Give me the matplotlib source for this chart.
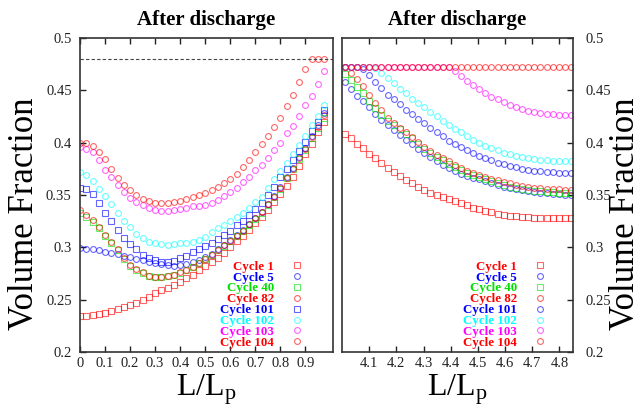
import matplotlib
matplotlib.use("Agg")
import matplotlib.pyplot as plt
from matplotlib.ticker import FormatStrFormatter

plt.rcParams['font.family'] = 'Liberation Serif'
plt.rcParams['mathtext.fontset'] = 'custom'
plt.rcParams['mathtext.rm'] = 'Liberation Serif'
plt.rcParams['mathtext.it'] = 'Liberation Serif:italic'

# --- data ---
cycles = ['Cycle 1', 'Cycle 5', 'Cycle 40', 'Cycle 82',
          'Cycle 101', 'Cycle 102', 'Cycle 103', 'Cycle 104']
colors = ['#ff0000', '#0000ff', '#00e000', '#ff0000',
          '#0000ff', '#00ffff', '#ff00ff', '#ff0000']
markersLeft = ['s', 'o', 's', 'o', 's', 'o', 'o', 'o']
markersRight = ['s', 'o', 's', 'o', 'o', 'o', 'o', 'o']

# left panel: positions along the particle
xLeft = [0.0, 0.025, 0.05, 0.075, 0.1, 0.125, 0.15, 0.175, 0.2, 0.225,
         0.25, 0.275, 0.3, 0.325, 0.35, 0.375, 0.4, 0.425, 0.45, 0.475,
         0.5, 0.525, 0.55, 0.575, 0.6, 0.625, 0.65, 0.675, 0.7, 0.725,
         0.75, 0.775, 0.8, 0.825, 0.85, 0.875, 0.9, 0.925, 0.95, 0.975]

left1 = [0.234, 0.234, 0.235, 0.236, 0.237, 0.239, 0.241, 0.243, 0.245, 0.247,
         0.250, 0.253, 0.256, 0.259, 0.261, 0.264, 0.267, 0.271, 0.274, 0.278,
         0.282, 0.286, 0.290, 0.295, 0.300, 0.306, 0.311, 0.317, 0.323, 0.329,
         0.336, 0.343, 0.351, 0.359, 0.367, 0.378, 0.389, 0.399, 0.410, 0.420]
left5 = [0.299, 0.298, 0.298, 0.297, 0.296, 0.295, 0.294, 0.292, 0.291, 0.289,
         0.288, 0.286, 0.285, 0.284, 0.283, 0.282, 0.283, 0.284, 0.286, 0.288,
         0.291, 0.294, 0.298, 0.302, 0.307, 0.312, 0.317, 0.322, 0.328, 0.334,
         0.341, 0.349, 0.358, 0.367, 0.376, 0.386, 0.395, 0.406, 0.417, 0.428]
left40 = [0.333, 0.329, 0.324, 0.318, 0.311, 0.304, 0.297, 0.289, 0.282, 0.278,
          0.275, 0.273, 0.272, 0.272, 0.273, 0.274, 0.275, 0.278, 0.281, 0.285,
          0.289, 0.293, 0.297, 0.301, 0.306, 0.311, 0.316, 0.321, 0.327, 0.333,
          0.340, 0.348, 0.356, 0.366, 0.375, 0.384, 0.393, 0.404, 0.414, 0.424]
left82 = [0.336, 0.331, 0.326, 0.319, 0.312, 0.305, 0.298, 0.290, 0.283, 0.279,
          0.276, 0.273, 0.272, 0.272, 0.273, 0.274, 0.276, 0.278, 0.281, 0.285,
          0.289, 0.293, 0.297, 0.302, 0.306, 0.311, 0.316, 0.322, 0.328, 0.334,
          0.341, 0.348, 0.357, 0.366, 0.375, 0.385, 0.394, 0.405, 0.415, 0.426]
left101 = [0.357, 0.356, 0.351, 0.342, 0.333, 0.325, 0.317, 0.309, 0.303, 0.298,
           0.293, 0.290, 0.288, 0.286, 0.286, 0.287, 0.290, 0.292, 0.296, 0.298,
           0.301, 0.304, 0.308, 0.312, 0.316, 0.321, 0.325, 0.331, 0.337, 0.342,
           0.350, 0.358, 0.367, 0.375, 0.383, 0.392, 0.401, 0.411, 0.420, 0.431]
left102 = [0.372, 0.369, 0.363, 0.356, 0.349, 0.341, 0.333, 0.325, 0.319, 0.313,
           0.309, 0.305, 0.304, 0.303, 0.302, 0.303, 0.304, 0.304, 0.305, 0.307,
           0.310, 0.315, 0.318, 0.321, 0.325, 0.329, 0.333, 0.338, 0.343, 0.348,
           0.357, 0.365, 0.373, 0.381, 0.389, 0.398, 0.406, 0.417, 0.425, 0.436]
left103 = [0.396, 0.394, 0.391, 0.383, 0.374, 0.367, 0.360, 0.353, 0.347, 0.343,
           0.340, 0.338, 0.336, 0.335, 0.335, 0.336, 0.337, 0.338, 0.339, 0.339,
           0.340, 0.342, 0.345, 0.349, 0.353, 0.357, 0.362, 0.367, 0.374, 0.379,
           0.385, 0.393, 0.400, 0.409, 0.416, 0.425, 0.436, 0.445, 0.456, 0.468]
left104 = [0.400, 0.400, 0.397, 0.391, 0.384, 0.375, 0.366, 0.360, 0.355, 0.350,
           0.346, 0.344, 0.342, 0.342, 0.342, 0.343, 0.344, 0.346, 0.348, 0.350,
           0.352, 0.355, 0.358, 0.361, 0.365, 0.370, 0.377, 0.383, 0.391, 0.399,
           0.406, 0.415, 0.424, 0.435, 0.446, 0.458, 0.470, 0.480, 0.480, 0.480]

# right panel
xRight = [4.010, 4.033, 4.055, 4.078, 4.100, 4.123, 4.145, 4.168, 4.190, 4.213,
          4.235, 4.258, 4.280, 4.303, 4.325, 4.348, 4.370, 4.393, 4.415, 4.438,
          4.460, 4.483, 4.505, 4.528, 4.550, 4.573, 4.595, 4.618, 4.640, 4.663,
          4.685, 4.708, 4.730, 4.753, 4.775, 4.798, 4.820, 4.843]

right1 = [0.408, 0.404, 0.399, 0.395, 0.389, 0.385, 0.381, 0.376, 0.372, 0.368,
          0.364, 0.361, 0.358, 0.355, 0.352, 0.350, 0.348, 0.346, 0.344, 0.342,
          0.340, 0.338, 0.337, 0.335, 0.334, 0.332, 0.331, 0.330, 0.330, 0.329,
          0.329, 0.328, 0.328, 0.328, 0.328, 0.328, 0.328, 0.328]
right5 = [0.458, 0.451, 0.445, 0.440, 0.434, 0.427, 0.422, 0.417, 0.412, 0.407,
          0.403, 0.399, 0.394, 0.390, 0.386, 0.382, 0.379, 0.376, 0.373, 0.370,
          0.368, 0.366, 0.365, 0.363, 0.361, 0.360, 0.358, 0.357, 0.356, 0.355,
          0.354, 0.353, 0.352, 0.352, 0.351, 0.351, 0.350, 0.350]
right40 = [0.466, 0.460, 0.453, 0.447, 0.440, 0.433, 0.426, 0.421, 0.417, 0.413,
           0.408, 0.404, 0.399, 0.394, 0.390, 0.386, 0.383, 0.380, 0.377, 0.374,
           0.371, 0.369, 0.367, 0.365, 0.363, 0.361, 0.360, 0.358, 0.357, 0.356,
           0.355, 0.354, 0.354, 0.353, 0.353, 0.352, 0.352, 0.352]
right82 = [0.472, 0.467, 0.461, 0.454, 0.446, 0.438, 0.431, 0.424, 0.419, 0.414,
           0.410, 0.405, 0.401, 0.396, 0.392, 0.388, 0.385, 0.382, 0.379, 0.376,
           0.373, 0.371, 0.369, 0.367, 0.365, 0.364, 0.362, 0.361, 0.360, 0.359,
           0.358, 0.357, 0.357, 0.356, 0.356, 0.356, 0.355, 0.355]
right101 = [0.472, 0.472, 0.472, 0.470, 0.465, 0.458, 0.452, 0.446, 0.442, 0.437,
            0.431, 0.427, 0.423, 0.419, 0.414, 0.410, 0.406, 0.402, 0.399, 0.396,
            0.393, 0.390, 0.387, 0.385, 0.383, 0.381, 0.380, 0.378, 0.377, 0.375,
            0.374, 0.373, 0.373, 0.372, 0.372, 0.371, 0.371, 0.371]
right102 = [0.472, 0.472, 0.472, 0.472, 0.472, 0.471, 0.467, 0.462, 0.457, 0.451,
            0.447, 0.442, 0.438, 0.434, 0.429, 0.425, 0.421, 0.417, 0.413, 0.410,
            0.406, 0.403, 0.400, 0.397, 0.395, 0.393, 0.390, 0.389, 0.387, 0.386,
            0.385, 0.384, 0.383, 0.383, 0.382, 0.382, 0.382, 0.382]
right103 = [0.472, 0.472, 0.472, 0.472, 0.472, 0.472, 0.472, 0.472, 0.472, 0.472,
            0.472, 0.472, 0.472, 0.472, 0.472, 0.472, 0.472, 0.472, 0.468, 0.464,
            0.459, 0.455, 0.451, 0.447, 0.444, 0.442, 0.439, 0.436, 0.434, 0.432,
            0.430, 0.429, 0.428, 0.427, 0.427, 0.426, 0.426, 0.426]
right104 = [0.472, 0.472, 0.472, 0.472, 0.472, 0.472, 0.472, 0.472, 0.472, 0.472,
            0.472, 0.472, 0.472, 0.472, 0.472, 0.472, 0.472, 0.472, 0.472, 0.472,
            0.472, 0.472, 0.472, 0.472, 0.472, 0.472, 0.472, 0.472, 0.472, 0.472,
            0.472, 0.472, 0.472, 0.472, 0.472, 0.472, 0.472, 0.472]

leftSeries = [left1, left5, left40, left82, left101, left102, left103, left104]
rightSeries = [right1, right5, right40, right82, right101, right102, right103, right104]

yTicks = [0.2, 0.25, 0.3, 0.35, 0.4, 0.45, 0.5]
xTicksLeft = [0, 0.1, 0.2, 0.3, 0.4, 0.5, 0.6, 0.7, 0.8, 0.9]
xTicksRight = [4.1, 4.2, 4.3, 4.4, 4.5, 4.6, 4.7, 4.8]
saturation = 0.48

fig = plt.figure(figsize=(6.41, 4.08), dpi=100)
axL = fig.add_axes([0.1248, 0.1373, 0.3947, 0.7696])
axR = fig.add_axes([0.5335, 0.1373, 0.3604, 0.7696])


def drawPanel(ax, x, series, markers):
    for name, ys, c, m in zip(cycles, series, colors, markers):
        ax.plot(x, ys, linestyle='none', marker=m, markersize=4.2,
                markerfacecolor='none', markeredgecolor=c,
                markeredgewidth=0.8, alpha=0.6, label=name)
    leg = ax.legend(loc='lower right', bbox_to_anchor=(0.88, 0.01),
                    frameon=False, markerfirst=False,
                    prop={'weight': 'bold', 'size': 9.3},
                    labelcolor=colors, handlelength=0.8, handletextpad=1.4,
                    labelspacing=-0.09, borderpad=0, borderaxespad=0)
    for h in leg.legend_handles:
        h.set_alpha(0.6)
    ax.set_ylim(0.2, 0.5)
    ax.set_yticks(yTicks)
    ax.yaxis.set_major_formatter(FormatStrFormatter('%g'))
    ax.xaxis.set_major_formatter(FormatStrFormatter('%g'))
    ax.set_title('After discharge', fontsize=15, fontweight='bold', pad=9)
    ax.set_xlabel(r'L/L$_{\mathrm{p}}$', fontsize=23, labelpad=2)
    ax.set_ylabel('Volume Fraction', fontsize=25)
    for s in ax.spines.values():
        s.set_linewidth(1.2)
        s.set_color('#333333')
    ax.tick_params(direction='in', length=4, width=1, labelsize=10.5,
                   top=True, colors='#222222')


drawPanel(axL, xLeft, leftSeries, markersLeft)
axL.axhline(saturation, color='#444444', linestyle=(0, (3, 2)), linewidth=0.8)
axL.set_xlim(0, 1.01)
axL.set_xticks(xTicksLeft)
axL.tick_params(axis='y', left=True, right=False, pad=6)
axL.yaxis.set_label_coords(-0.155, 0.44)

drawPanel(axR, xRight, rightSeries, markersRight)
axR.set_xlim(4.0, 4.85)
axR.set_xticks(xTicksRight)
axR.yaxis.tick_right()
axR.yaxis.set_label_position('right')
axR.tick_params(axis='y', direction='in', left=False, right=True, pad=9)
axR.yaxis.set_label_coords(1.156, 0.44)

fig.savefig('out.png', dpi=100)
